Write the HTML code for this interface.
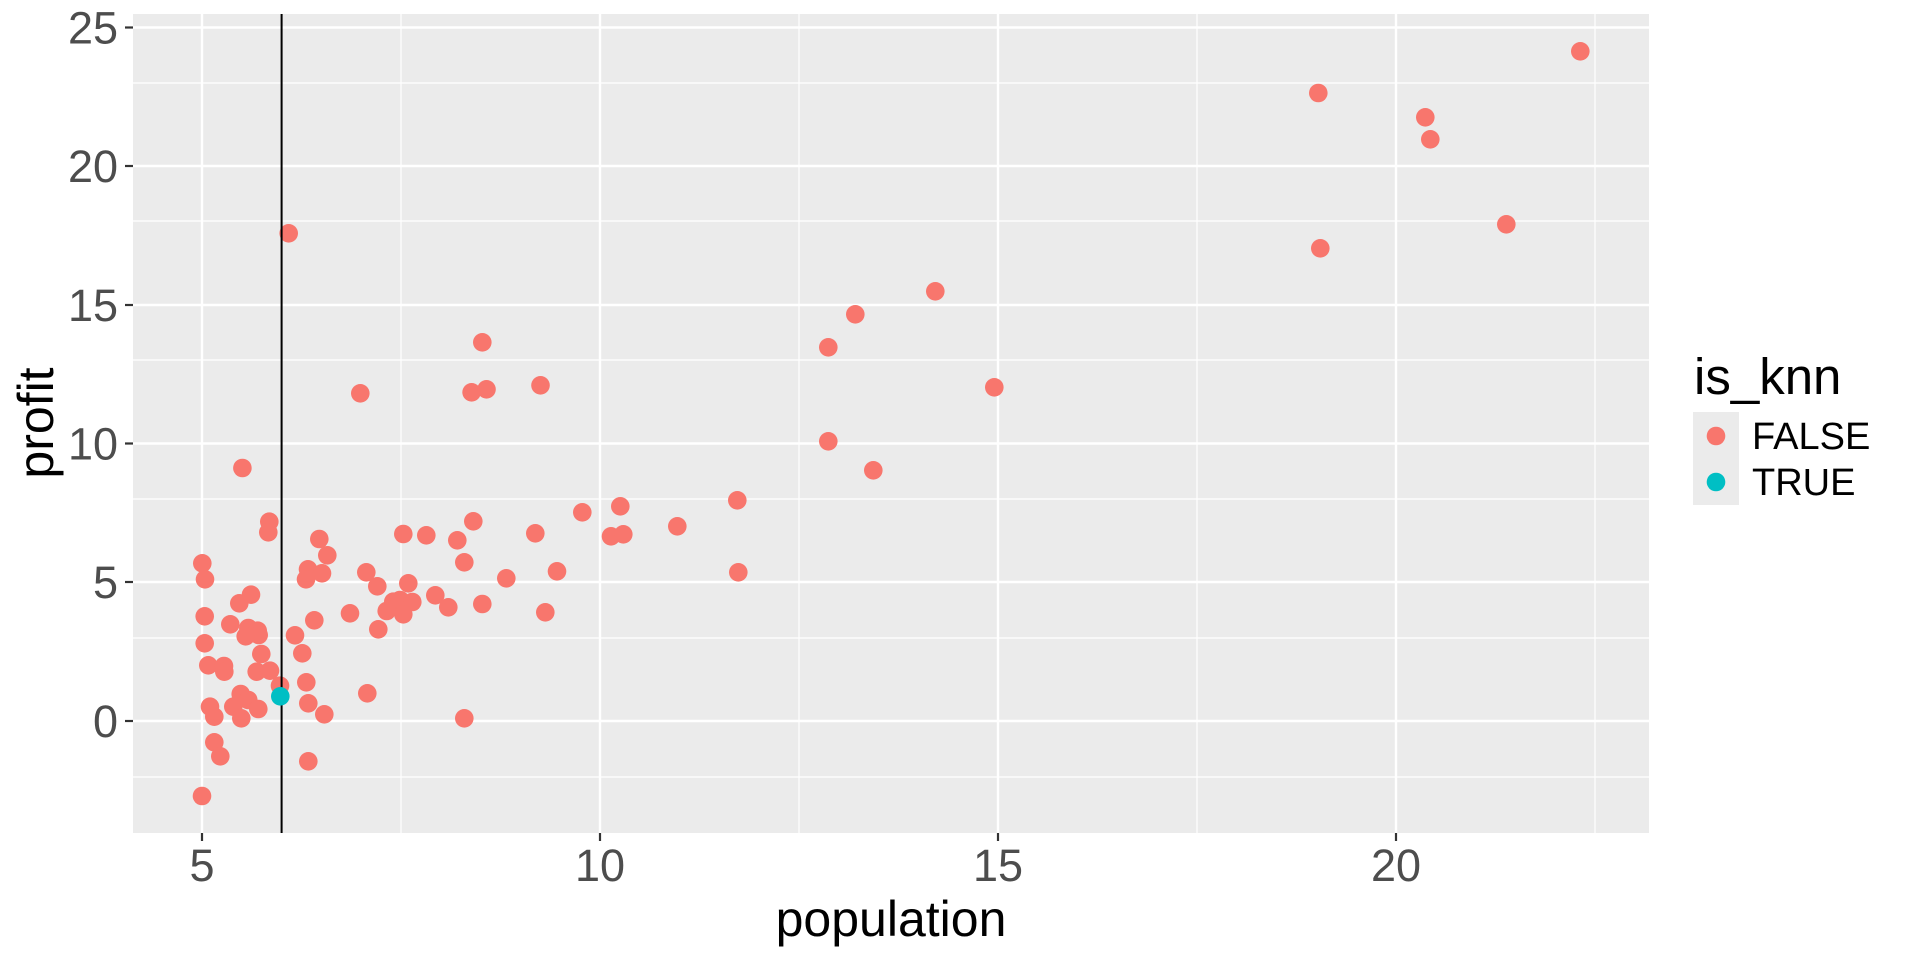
<!DOCTYPE html>
<html><head><meta charset="utf-8"><style>html,body{margin:0;padding:0;background:#fff}svg{display:block}</style></head>
<body>
<svg width="1920" height="960" viewBox="0 0 1920 960" xmlns="http://www.w3.org/2000/svg" font-family="Liberation Sans, sans-serif">
<rect x="133" y="14" width="1516" height="819" fill="#ebebeb"/>
<g stroke="#fff" stroke-width="1.2">
<line x1="133" x2="1649" y1="777" y2="777"/><line x1="133" x2="1649" y1="638" y2="638"/><line x1="133" x2="1649" y1="499" y2="499"/><line x1="133" x2="1649" y1="360" y2="360"/><line x1="133" x2="1649" y1="221" y2="221"/><line x1="133" x2="1649" y1="83" y2="83"/>
<line y1="14" y2="833" x1="401" x2="401"/><line y1="14" y2="833" x1="799" x2="799"/><line y1="14" y2="833" x1="1197" x2="1197"/><line y1="14" y2="833" x1="1595" x2="1595"/>
</g>
<g stroke="#fff" stroke-width="2.4">
<line x1="133" x2="1649" y1="721" y2="721"/><line x1="133" x2="1649" y1="582" y2="582"/><line x1="133" x2="1649" y1="443.5" y2="443.5"/><line x1="133" x2="1649" y1="305" y2="305"/><line x1="133" x2="1649" y1="166" y2="166"/><line x1="133" x2="1649" y1="27.5" y2="27.5"/>
<line y1="14" y2="833" x1="202" x2="202"/><line y1="14" y2="833" x1="600" x2="600"/><line y1="14" y2="833" x1="998" x2="998"/><line y1="14" y2="833" x1="1396" x2="1396"/>
</g>
<g fill="#f8766d">
<circle cx="288.7" cy="233.3" r="9.3"/><circle cx="482.3" cy="342.3" r="9.3"/><circle cx="360.3" cy="393.3" r="9.3"/><circle cx="471.6" cy="392.3" r="9.3"/><circle cx="486.5" cy="389.3" r="9.3"/><circle cx="540.5" cy="385.3" r="9.3"/><circle cx="242.4" cy="468" r="9.3"/>
<circle cx="828.3" cy="441.3" r="9.3"/><circle cx="873.3" cy="470.3" r="9.3"/><circle cx="582.3" cy="512.3" r="9.3"/><circle cx="620.3" cy="506.3" r="9.3"/><circle cx="611" cy="536.3" r="9.3"/><circle cx="623.3" cy="534.3" r="9.3"/><circle cx="677.3" cy="526.3" r="9.3"/><circle cx="737.3" cy="500.3" r="9.3"/><circle cx="738.3" cy="572.3" r="9.3"/>
<circle cx="935.3" cy="291.3" r="9.3"/><circle cx="855.3" cy="314.3" r="9.3"/><circle cx="828.3" cy="347.3" r="9.3"/><circle cx="994.3" cy="387.3" r="9.3"/>
<circle cx="1580.3" cy="51.3" r="9.3"/><circle cx="1318.3" cy="93" r="9.3"/><circle cx="1425.3" cy="117.3" r="9.3"/><circle cx="1430.3" cy="139.3" r="9.3"/><circle cx="1506.3" cy="224.3" r="9.3"/><circle cx="1320.3" cy="248.3" r="9.3"/>
<circle cx="269.3" cy="521.7" r="9.3"/><circle cx="268.3" cy="532.3" r="9.3"/><circle cx="202.3" cy="563.3" r="9.3"/><circle cx="205" cy="579.3" r="9.3"/><circle cx="319.3" cy="539" r="9.3"/><circle cx="327.3" cy="555.3" r="9.3"/><circle cx="308" cy="569.3" r="9.3"/><circle cx="322" cy="573.3" r="9.3"/><circle cx="306" cy="579.3" r="9.3"/>
<circle cx="403.3" cy="534" r="9.3"/><circle cx="426.3" cy="535.3" r="9.3"/><circle cx="473.3" cy="521.3" r="9.3"/><circle cx="457.3" cy="540.3" r="9.3"/><circle cx="464.3" cy="562.3" r="9.3"/><circle cx="535.3" cy="533.3" r="9.3"/><circle cx="557" cy="571.3" r="9.3"/><circle cx="506.3" cy="578.3" r="9.3"/>
<circle cx="366.3" cy="572.3" r="9.3"/><circle cx="377.3" cy="586.3" r="9.3"/><circle cx="408.3" cy="583.3" r="9.3"/><circle cx="435.3" cy="595.3" r="9.3"/><circle cx="448.3" cy="607.3" r="9.3"/><circle cx="482.3" cy="604" r="9.3"/><circle cx="545.3" cy="612.3" r="9.3"/>
<circle cx="393.3" cy="601.7" r="9.3"/><circle cx="400" cy="600" r="9.3"/><circle cx="412.3" cy="602" r="9.3"/><circle cx="403.3" cy="614.3" r="9.3"/><circle cx="386.7" cy="611" r="9.3"/><circle cx="350" cy="613.3" r="9.3"/><circle cx="378.3" cy="629.3" r="9.3"/>
<circle cx="314.3" cy="620.3" r="9.3"/><circle cx="295" cy="635.3" r="9.3"/><circle cx="302.3" cy="653.3" r="9.3"/><circle cx="306.3" cy="682.3" r="9.3"/><circle cx="308.3" cy="703.3" r="9.3"/><circle cx="324.3" cy="714.3" r="9.3"/><circle cx="367.3" cy="693.3" r="9.3"/><circle cx="464.3" cy="718.3" r="9.3"/><circle cx="308.3" cy="761.3" r="9.3"/>
<circle cx="204.7" cy="616.3" r="9.3"/><circle cx="204.7" cy="643.3" r="9.3"/><circle cx="251" cy="594.7" r="9.3"/><circle cx="239.3" cy="603.3" r="9.3"/><circle cx="230.3" cy="624.3" r="9.3"/><circle cx="248.3" cy="628" r="9.3"/><circle cx="257.7" cy="630.7" r="9.3"/><circle cx="258.7" cy="635" r="9.3"/><circle cx="245.7" cy="636.3" r="9.3"/>
<circle cx="261.3" cy="654" r="9.3"/><circle cx="208.3" cy="665.3" r="9.3"/><circle cx="224" cy="666" r="9.3"/><circle cx="224.3" cy="671.7" r="9.3"/><circle cx="256.7" cy="671.7" r="9.3"/><circle cx="270" cy="670.7" r="9.3"/><circle cx="280" cy="685.7" r="9.3"/>
<circle cx="240.7" cy="694" r="9.3"/><circle cx="248.3" cy="700" r="9.3"/><circle cx="258.3" cy="709" r="9.3"/><circle cx="233.3" cy="706.7" r="9.3"/><circle cx="241.3" cy="718.3" r="9.3"/><circle cx="210" cy="706.7" r="9.3"/><circle cx="214.3" cy="716.7" r="9.3"/><circle cx="214.3" cy="742.3" r="9.3"/><circle cx="220.3" cy="756.3" r="9.3"/><circle cx="202" cy="796" r="9.3"/>
</g>
<line x1="281.6" x2="281.6" y1="14" y2="833" stroke="#000" stroke-width="2"/>
<circle cx="280.3" cy="696.3" r="9.3" fill="#00bfc4"/>
<g stroke="#333" stroke-width="2.2">
<line x1="125" x2="133" y1="721" y2="721"/><line x1="125" x2="133" y1="582" y2="582"/><line x1="125" x2="133" y1="443.5" y2="443.5"/><line x1="125" x2="133" y1="305" y2="305"/><line x1="125" x2="133" y1="166" y2="166"/><line x1="125" x2="133" y1="27.5" y2="27.5"/>
<line y1="833" y2="841" x1="202" x2="202"/><line y1="833" y2="841" x1="600" x2="600"/><line y1="833" y2="841" x1="998" x2="998"/><line y1="833" y2="841" x1="1396" x2="1396"/>
</g>
<g fill="#4d4d4d" font-size="45" text-anchor="end">
<text x="118" y="737">0</text><text x="118" y="598">5</text><text x="118" y="459.5">10</text><text x="118" y="321">15</text><text x="118" y="182">20</text><text x="118" y="43.5">25</text>
</g>
<g fill="#4d4d4d" font-size="45" text-anchor="middle">
<text x="202" y="881">5</text><text x="600" y="881">10</text><text x="998" y="881">15</text><text x="1396" y="881">20</text>
</g>
<text x="891" y="936" font-size="50" text-anchor="middle" fill="#000">population</text>
<text transform="translate(53,423) rotate(-90)" font-size="50" text-anchor="middle" fill="#000">profit</text>
<text x="1694" y="394" font-size="51" fill="#000">is_knn</text>
<rect x="1693" y="412" width="46" height="93" fill="#ebebeb"/>
<circle cx="1716" cy="436" r="9.3" fill="#f8766d"/>
<circle cx="1716" cy="482" r="9.3" fill="#00bfc4"/>
<text x="1752" y="449" font-size="38" fill="#000">FALSE</text>
<text x="1752" y="495" font-size="38" fill="#000">TRUE</text>
</svg>
</body></html>
